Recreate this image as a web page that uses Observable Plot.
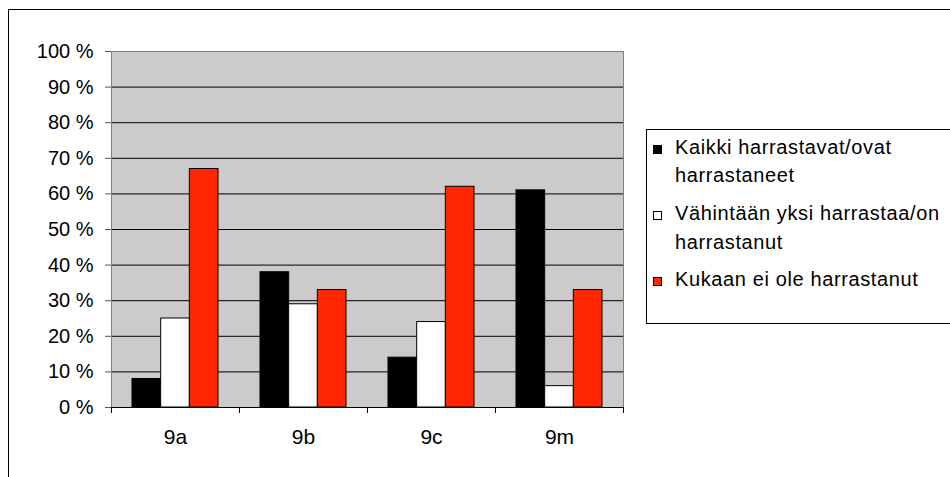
<!DOCTYPE html>
<html>
<head>
<meta charset="utf-8">
<script src="https://cdn.jsdelivr.net/npm/d3@7"></script>
<script src="https://cdn.jsdelivr.net/npm/@observablehq/plot@0.6"></script>
<style>
  body { margin: 0; background: #fff; }
  #wrap { position: relative; width: 950px; height: 477px; overflow: hidden; background: #fff;
          font-family: "Liberation Sans", Arial, sans-serif; color: #000; }
  #border { position: absolute; left: 8px; top: 9px; width: 1000px; height: 600px;
            border-left: 1px solid #000; border-top: 1px solid #000; }
  #chart { position: absolute; left: 0; top: 0; }
  #legend { position: absolute; left: 646px; top: 129px; width: 330px; height: 195px;
            box-sizing: border-box; border: 1px solid #000; background: #fff; padding-top: 3px; }
  .entry { position: relative; padding-left: 28px; font-size: 20px; line-height: 28.4px;
           letter-spacing: 0.62px; white-space: pre-line; margin-bottom: 9.4px; }
  .sw { position: absolute; left: 6px; top: 12px; width: 9px; height: 9px; box-sizing: border-box;
        border: 1px solid #000; }
</style>
</head>
<body>
<div id="wrap">
  <div id="border"></div>
  <div id="chart"></div>
  <div id="legend"></div>
</div>
<script>
const categories = ["9a", "9b", "9c", "9m"];
const seriesNames = [
  "Kaikki harrastavat/ovat\nharrastaneet",
  "Vähintään yksi harrastaa/on\nharrastanut",
  "Kukaan ei ole harrastanut"
];
const kaikki = [8, 38, 14, 61];
const vahintaan = [25, 29, 24, 6];
const kukaan = [67, 33, 62, 33];
const yTicks = [0, 10, 20, 30, 40, 50, 60, 70, 80, 90, 100];
const seriesColors = ["#000000", "#ffffff", "#ff2600"];

const seriesValues = [kaikki, vahintaan, kukaan];

const W = 628, H = 460, mL = 111, mR = 5, mT = 51, mB = 53;
const step = (W - mL - mR) / categories.length;
const gapFrac = 0.164, barFrac = 0.224;

const barMarks = seriesValues.map((vals, k) => {
  const data = categories.map((c, i) => ({cat: c, value: vals[i]}));
  return Plot.barY(data, {
    x: "cat", y: "value",
    fill: seriesColors[k], stroke: "#000", strokeWidth: 1,
    insetLeft: step * (gapFrac + k * barFrac),
    insetRight: step * (1 - gapFrac - (k + 1) * barFrac)
  });
});

const plot = Plot.plot({
  width: W, height: H,
  marginLeft: mL, marginRight: mR, marginTop: mT, marginBottom: mB,
  style: {fontFamily: '"Liberation Sans", Arial, sans-serif', fontSize: "20px", background: "transparent", color: "#000", overflow: "visible"},
  x: {type: "band", domain: categories, padding: 0, label: null},
  y: {domain: [0, 100], label: null},
  marks: [
    Plot.frame({fill: "#cbcbcb", stroke: null}),
    Plot.ruleY(yTicks.filter(t => t > 0 && t < 100), {stroke: "#000", strokeWidth: 1}),
    ...barMarks,
    Plot.frame({stroke: "#808080"}),
    Plot.ruleY([0], {stroke: "#000"}),
    Plot.axisY({ticks: yTicks, tickSize: 6, tickPadding: 12, tickFormat: d => `${d} %`,
                stroke: "#555", fill: "#000", label: null, fontSize: 20}),
    Plot.axisX({tickSize: 6, fill: "none", stroke: "#000", dx: -step / 2, label: null}),
    Plot.axisX([categories[categories.length - 1]], {tickSize: 6, fill: "none", stroke: "#000", dx: step / 2, label: null}),
    Plot.axisX({tickSize: 0, tickPadding: 22, fill: "#000", label: null, fontSize: 21})
  ]
});
document.getElementById("chart").appendChild(plot);

const legend = document.getElementById("legend");
seriesNames.forEach((name, k) => {
  const e = document.createElement("div");
  e.className = "entry";
  const sw = document.createElement("div");
  sw.className = "sw";
  sw.style.background = seriesColors[k];
  e.appendChild(sw);
  e.appendChild(document.createTextNode(name));
  legend.appendChild(e);
});
</script>
</body>
</html>
